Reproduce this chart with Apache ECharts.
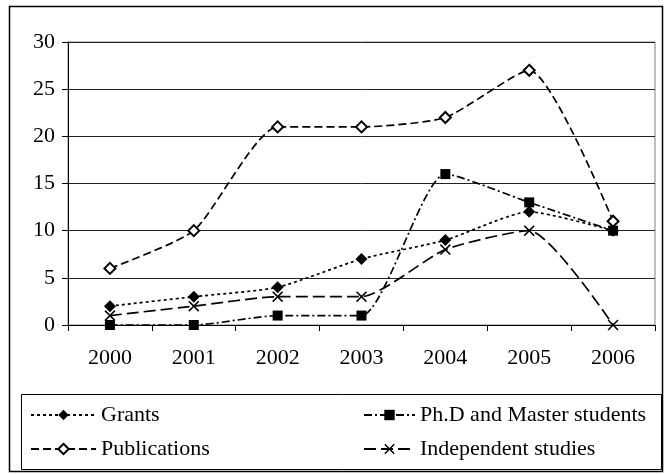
<!DOCTYPE html>
<html><head><meta charset="utf-8">
<script src="https://cdn.jsdelivr.net/npm/echarts@6/dist/echarts.min.js"></script>
<style>html,body{margin:0;padding:0;background:#fff}#c{width:665px;height:474px}</style>
</head><body><div id="c"></div>
<script>
const years = ['2000','2001','2002','2003','2004','2005','2006'];
const grants = [2, 3, 4, 7, 9, 12, 10];
const phd = [0, 0, 1, 1, 16, 13, 10];
const publications = [6, 10, 21, 21, 22, 27, 11];
const independent = [1, 2, 3, 3, 8, 10, 0];

const FONT = '"Liberation Serif", "Times New Roman", serif';
const xSym = 'path://M0,1 L1,0 L5,4 L9,0 L10,1 L6,5 L10,9 L9,10 L5,6 L1,10 L0,9 L4,5 Z';
const chart = echarts.init(document.getElementById('c'));
function ser(name, data, symbol, size, dash, empty) {
  return {
    name, type: 'line', data, symbol, symbolSize: size, smooth: 0.2,
    showAllSymbol: true,
    itemStyle: empty ? { color: '#000', borderColor: '#000', borderWidth: 1.4 } : { color: '#000', borderWidth: 0 },
    lineStyle: { color: '#000', width: 1.7, type: dash },
    emphasis: { disabled: true }, animation: false, z: 3
  };
}
chart.setOption({
  animation: false,
  backgroundColor: '#fff',
  textStyle: { fontFamily: FONT },
  grid: { left: 68, top: 42, right: 10, bottom: 149, show: true, borderColor: '#808080', borderWidth: 1 },
  xAxis: {
    type: 'category', data: years, boundaryGap: true,
    axisLine: { lineStyle: { color: '#000', width: 1 } },
    axisTick: { show: true, length: 6, inside: false, lineStyle: { color: '#000' } },
    axisLabel: { color: '#000', fontSize: 22, fontFamily: FONT, margin: 22 },
    splitLine: { show: false }
  },
  yAxis: {
    type: 'value', min: 0, max: 30, interval: 5,
    axisLine: { show: true, lineStyle: { color: '#000', width: 1 } },
    axisTick: { show: true, length: 6, lineStyle: { color: '#000' } },
    axisLabel: { color: '#000', fontSize: 22, fontFamily: FONT, margin: 13 },
    splitLine: { show: true, lineStyle: { color: '#222', width: 1 } }
  },
  legend: [
    { data: ['Grants', 'Publications'], orient: 'vertical', left: 30, top: 404, itemWidth: 65, itemHeight: 13, itemGap: 12, padding: 0,
      textStyle: { fontSize: 22, fontFamily: FONT, color: '#000' }, selectedMode: false },
    { data: ['Ph.D and Master students', 'Independent studies'], orient: 'vertical', left: 363, top: 404, itemWidth: 51, itemHeight: 13, itemGap: 12, padding: 0,
      textStyle: { fontSize: 22, fontFamily: FONT, color: '#000' }, selectedMode: false }
  ],
  graphic: [
    { type: 'rect', shape: { x: 9.5, y: 6.5, width: 653, height: 465 }, style: { fill: 'none', stroke: '#000', lineWidth: 1.5 }, silent: true },
    { type: 'rect', shape: { x: 21.5, y: 394.5, width: 640, height: 75 }, style: { fill: 'none', stroke: '#000', lineWidth: 1 }, silent: true }
  ],
  series: [
    ser('Grants', grants, 'diamond', 12, [3, 3], false),
    ser('Ph.D and Master students', phd, 'rect', 10, [8, 3, 2, 3], false),
    ser('Publications', publications, 'emptyDiamond', 11, [8, 4], true),
    ser('Independent studies', independent, xSym, 11, [12, 5], false)
  ]
});
</script></body></html>
